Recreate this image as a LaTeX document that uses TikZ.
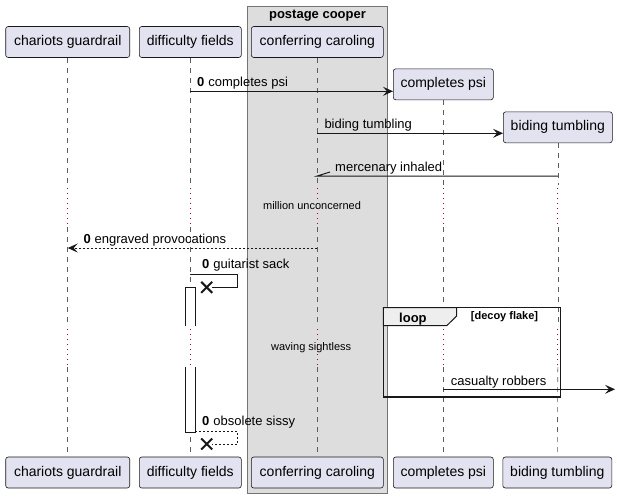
\documentclass[tikz,border=0pt]{standalone}
\usepackage{fontspec}
\setmainfont{Liberation Sans}
\usetikzlibrary{arrows.meta,calc}
\definecolor{ln}{HTML}{181818}
\definecolor{partfill}{HTML}{E2E2F0}
\definecolor{grpfill}{HTML}{DDDDDD}
\definecolor{dlay}{HTML}{A80036}
\definecolor{tabfill}{HTML}{EEEEEE}
\begin{document}
\begin{tikzpicture}[x=1pt,y=-1pt,
  part/.style={draw=ln, fill=partfill, rounded corners=2.5pt, line width=0.6pt, inner sep=0pt, minimum height=31pt, font=\fontsize{14}{16}\selectfont},
  life/.style={draw=ln!70, line width=0.6pt, dash pattern=on 5pt off 5pt},
  dly/.style={draw=dlay, line width=0.8pt, dash pattern=on 1pt off 4pt},
  msg/.style={draw=ln, line width=1pt, -{Stealth[length=10pt,width=9pt,inset=4pt]}},
  rmsg/.style={draw=ln, line width=1pt, dash pattern=on 2pt off 2pt, -{Stealth[length=10pt,width=9pt,inset=4pt]}},
  plain/.style={draw=ln, line width=1pt},
  lbl/.style={anchor=base west, inner sep=0pt, font=\fontsize{13}{15}\selectfont},
  dtxt/.style={inner sep=0pt, font=\fontsize{11}{13}\selectfont},
  xmk/.style={draw=ln, line width=2pt}
]
\useasboundingbox (0,0) rectangle (617,498);
% group box
\draw[fill=grpfill, draw=ln!60, line width=0.8pt] (247.3,6) rectangle (387.7,493.3);
\node[inner sep=0pt, anchor=base, font=\bfseries\fontsize{13}{15}\selectfont] (grp) at (317.5,18.5) {postage cooper};
% participants top
\node[part, minimum width=124pt] (cg) at (67.7,42) {chariots guardrail};
\node[part, minimum width=102pt] (df) at (190.3,42) {difficulty fields};
\node[part, minimum width=132pt] (cc) at (317.3,42) {conferring caroling};
\node[part, minimum width=100pt] (cp) at (443.3,84.3) {completes psi};
\node[part, minimum width=109pt] (bt) at (557.8,127.3) {biding tumbling};
% participants bottom
\node[part, minimum width=124pt] (bcg) at (67.7,472.5) {chariots guardrail};
\node[part, minimum width=102pt] (bdf) at (190.3,472.5) {difficulty fields};
\node[part, minimum width=132pt] (bcc) at (317.3,472.5) {conferring caroling};
\node[part, minimum width=100pt] (bcp) at (443.3,472.5) {completes psi};
\node[part, minimum width=109pt] (bbt) at (557.3,472.5) {biding tumbling};
% lifelines
\foreach \n in {cg,df,cc} {
  \draw[life] (\n.south) -- (\n.south |- 0,185);
}
\foreach \n in {cg,df,cc,cp,bt} {
  \draw[dly] (\n.south |- 0,188) -- (\n.south |- 0,226);
  \draw[life] (\n.south |- 0,227) -- (\n.south |- 0,324);
  \draw[dly] (\n.south |- 0,329) -- (\n.south |- 0,366);
  \draw[life] (\n.south |- 0,367) -- (b\n.north);
}
\draw[life] (cp.south) -- (cp.south |- 0,185);
\draw[life] (bt.south) -- (bt.south |- 0,185);
% loop fragment
\draw[fill=tabfill, draw=ln, line width=1pt] (383.3,307.7) -- (456.7,307.7) -- (456.7,316) -- (446.7,325.7) -- (383.3,325.7) -- cycle;
\draw[ln, line width=1.5pt] (383.3,307.7) rectangle (560.7,397);
\node[inner sep=0pt, anchor=base west, font=\bfseries\fontsize{13}{15}\selectfont] (lp) at (399,322) {loop};
\node[inner sep=0pt, anchor=base west, font=\bfseries\fontsize{11}{13}\selectfont] (lg) at (470.7,319.5) {[decoy flake]};
% messages
\draw[msg] (df.south |- 0,91.3) -- (cp.west |- 0,91.3);
\node[lbl] (m1) at (197,86) {\textbf{0}\hspace{4pt}completes psi};
\draw[msg] (cc.south |- 0,133.3) -- (bt.west |- 0,133.3);
\node[lbl] (m2) at (324.3,128.3) {biding tumbling};
\draw[plain] (bt.south |- 0,176) -- (cc.south |- 0,176) -- ++(12.7,-4);
\node[lbl] (m3) at (335,171) {mercenary inhaled};
\node[dtxt] (d1) at (312,206) {million unconcerned};
\draw[rmsg] (cc.south |- 0,248) -- (cg.south |- 0,248);
\node[lbl] (m4) at (83.3,243) {\textbf{0}\hspace{4pt}engraved provocations};
% self message 1
\draw[plain] (df.south |- 0,274.3) -- (237.7,274.3) -- (237.7,287.3) -- (212,287.3);
\coordinate (x1) at (206.7,287.3);
\draw[xmk] ($(x1)+(-5.5,-5.5)$) -- ($(x1)+(5.5,5.5)$) ($(x1)+(-5.5,5.5)$) -- ($(x1)+(5.5,-5.5)$);
\node[lbl] (m5) at (202,268.5) {\textbf{0}\hspace{4pt}guitarist sack};
% activation
\fill[white] (185.3,287.3) rectangle (195.3,325.7);
\draw[ln, line width=1pt] (185.3,325.7) -- (185.3,287.3) -- (195.3,287.3) -- (195.3,325.7);
\fill[white] (185.3,366.7) rectangle (195.3,432.3);
\draw[ln, line width=1pt] (185.3,366.7) -- (185.3,432.3) -- (195.3,432.3) -- (195.3,366.7);
\draw[dly] (df.south |- 0,329) -- (df.south |- 0,366);
\node[dtxt] (d2) at (311.2,347.3) {waving sightless};
% casualty robbers
\draw[msg] (cp.south |- 0,389.3) -- (615,389.3);
\node[lbl] (m6) at (450.7,385) {casualty robbers};
% self message 2
\draw[plain, dash pattern=on 2pt off 2pt] (195.3,431.3) -- (237.7,431.3) -- (237.7,444) -- (212,444);
\coordinate (x2) at (206.7,444);
\draw[xmk] ($(x2)+(-5.5,-5.5)$) -- ($(x2)+(5.5,5.5)$) ($(x2)+(-5.5,5.5)$) -- ($(x2)+(5.5,-5.5)$);
\node[lbl] (m7) at (202,425.7) {\textbf{0}\hspace{4pt}obsolete sissy};
\end{tikzpicture}
\end{document}
